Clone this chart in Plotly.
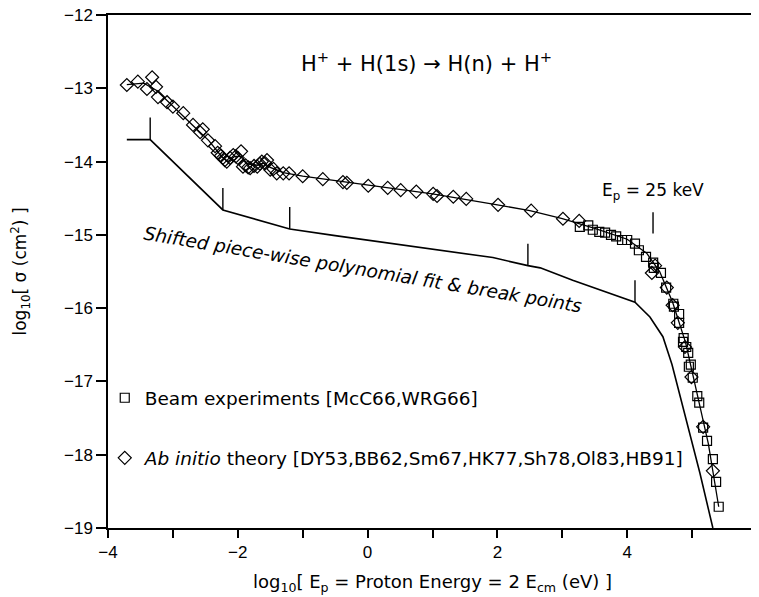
import math
import plotly.graph_objects as go

# ---- data ----
theory_x = [-3.71, -3.54, -3.32, -3.40, -3.26, -3.23, -3.09, -3.00, -2.84, -2.69,
            -2.58, -2.54, -2.46, -2.35, -2.31, -2.26, -2.23, -2.20, -2.17, -2.12,
            -2.07, -2.03, -2.00, -1.95, -1.92, -1.88, -1.84, -1.81, -1.75, -1.70,
            -1.66, -1.63, -1.58, -1.55, -1.50, -1.45, -1.40, -1.30, -1.21, -1.00,
            -0.69, -0.38, -0.32, 0.01, 0.31, 0.51, 0.75, 1.01, 1.07, 1.32,
            1.52, 2.01, 2.52, 3.01, 3.26, 4.38, 4.43, 4.61, 4.70, 4.78,
            4.89, 4.99, 5.17, 5.32]
theory_y = [-12.955, -12.91, -12.85, -13.01, -12.98, -13.12, -13.19, -13.25, -13.34, -13.50,
            -13.60, -13.56, -13.71, -13.79, -13.88, -13.92, -13.95, -13.98, -14.00, -13.95,
            -13.91, -13.93, -13.95, -13.86, -14.07, -14.05, -14.08, -14.09, -14.06, -14.07,
            -14.03, -14.00, -14.02, -13.98, -14.11, -14.10, -14.16, -14.16, -14.16, -14.20,
            -14.24, -14.28, -14.29, -14.33, -14.36, -14.39, -14.41, -14.44, -14.47, -14.48,
            -14.51, -14.59, -14.67, -14.78, -14.81, -15.52, -15.42, -15.72, -15.96, -16.20,
            -16.53, -16.94, -17.62, -18.22]

beam_x = [3.27, 3.40, 3.47, 3.57, 3.66, 3.75, 3.83, 3.92, 4.00, 4.12,
          4.18, 4.29, 4.40, 4.41, 4.52, 4.60, 4.71, 4.72, 4.80, 4.80,
          4.86, 4.87, 4.91, 4.94, 4.95, 4.98, 5.01, 5.08, 5.11, 5.17,
          5.23, 5.32, 5.37, 5.41]
beam_y = [-14.89, -14.87, -14.93, -14.96, -14.97, -15.00, -15.02, -15.07, -15.07, -15.12,
          -15.21, -15.30, -15.38, -15.45, -15.52, -15.72, -15.94, -15.98, -16.08, -16.20,
          -16.46, -16.41, -16.53, -16.61, -16.80, -16.77, -16.95, -17.20, -17.29, -17.63,
          -17.81, -18.06, -18.37, -18.71]

fit_x = [-3.71, -3.45, -3.25, -3.00, -2.70, -2.45, -2.25, -2.15, -2.05, -1.95,
         -1.85, -1.70, -1.60, -1.50, -1.30, -1.00, 0.00, 1.00, 2.00, 2.50,
         3.00, 3.50, 4.00, 4.30, 4.50, 4.70, 4.90, 5.10, 5.25, 5.41]
fit_y = [-12.95, -12.93, -13.03, -13.25, -13.50, -13.71, -13.93, -14.00, -13.93, -13.93,
         -14.03, -14.05, -14.02, -14.08, -14.15, -14.20, -14.32, -14.44, -14.59, -14.67,
         -14.78, -14.91, -15.06, -15.25, -15.50, -15.92, -16.47, -17.25, -17.85, -18.71]

shifted_x = [-3.71, -3.35, -2.23, -1.20, -0.50, 0.50, 1.93, 2.47, 2.66, 3.16,
             3.69, 4.12, 4.35, 4.55, 4.69, 4.86, 5.12, 5.32]
shifted_y = [-13.70, -13.70, -14.66, -14.92, -15.01, -15.13, -15.31, -15.42, -15.45, -15.62,
             -15.79, -15.92, -16.12, -16.39, -16.77, -17.35, -18.25, -19.00]

break_x = [-3.35, -2.23, -1.20, 2.47, 4.12]
break_y = [-13.70, -14.66, -14.92, -15.42, -15.92]
break_len = 0.30

ep_keV = 25
ep_mark_y = [-14.69, -14.98]

x_ticks = [-4, -2, 0, 2, 4, 6]
y_ticks = [-12, -13, -14, -15, -16, -17, -18, -19]

ARIAL = "Liberation Sans, Arial, Helvetica, sans-serif"
WIDE = "DejaVu Sans, Verdana, sans-serif"

fig = go.Figure()

fig.add_trace(go.Scatter(x=fit_x, y=fit_y, mode="lines",
                         line=dict(color="black", width=1.3), showlegend=False,
                         hoverinfo="skip"))
fig.add_trace(go.Scatter(x=shifted_x, y=shifted_y, mode="lines",
                         line=dict(color="black", width=1.6), showlegend=False,
                         hoverinfo="skip"))
bx, by = [], []
for xv, yv in zip(break_x, break_y):
    bx += [xv, xv, None]
    by += [yv, yv + break_len, None]
fig.add_trace(go.Scatter(x=bx, y=by, mode="lines",
                         line=dict(color="black", width=1.4), showlegend=False,
                         hoverinfo="skip"))
ep_x = math.log10(ep_keV * 1e3)
fig.add_trace(go.Scatter(x=[ep_x, ep_x], y=ep_mark_y, mode="lines",
                         line=dict(color="black", width=1.4), showlegend=False,
                         hoverinfo="skip"))

fig.add_trace(go.Scatter(x=beam_x, y=beam_y, mode="markers",
                         name="Beam experiments [McC66,WRG66]",
                         legendgroup="a",
                         marker=dict(symbol="square-open", size=9,
                                     color="black", line=dict(width=1.2))))
fig.add_trace(go.Scatter(x=theory_x, y=theory_y, mode="markers",
                         name="<i>Ab initio</i> theory [DY53,BB62,Sm67,HK77,Sh78,Ol83,HB91]",
                         legendgroup="b",
                         marker=dict(symbol="diamond-open", size=10,
                                     color="black", line=dict(width=1.2))))

fig.add_annotation(x=0.90, y=-12.64, xref="x", yref="y", showarrow=False,
                   text="H<sup>+</sup> + H(1s) \u2192 H(n) + H<sup>+</sup>",
                   font=dict(family=WIDE, size=21, color="black"))
fig.add_annotation(x=4.40, y=-14.41, xref="x", yref="y", showarrow=False,
                   text="E<sub>p</sub> = 25 keV",
                   font=dict(family=WIDE, size=17, color="black"))
fig.add_annotation(x=-0.07, y=-15.47, xref="x", yref="y", showarrow=False,
                   text="<i>Shifted piece-wise polynomial fit &amp; break points</i>",
                   textangle=9.5, font=dict(family=WIDE, size=18.5, color="black"))

# the page body adds an 8px margin, so the figure is sized to fit inside it
fig.update_layout(
    width=751, height=589,
    margin=dict(l=100, r=2, t=7, b=69),
    paper_bgcolor="white", plot_bgcolor="white",
    font=dict(family=ARIAL, size=16, color="black"),
    showlegend=True,
    legend=dict(x=-0.005, y=0.29, xanchor="left", yanchor="top",
                bgcolor="rgba(0,0,0,0)", borderwidth=0,
                font=dict(family=WIDE, size=18.5, color="black"),
                traceorder="grouped", tracegroupgap=33, itemwidth=30),
)
fig.update_xaxes(range=[-4, 6], tickvals=x_ticks,
                 ticktext=[f"{v}" if v >= 0 else f"\u2212{-v}" for v in x_ticks],
                 ticks="outside", ticklen=8, tickwidth=1.5, tickcolor="black",
                 minor=dict(dtick=1, tick0=-4, ticks="outside", ticklen=8,
                            tickwidth=1.5, tickcolor="black"),
                 showline=True, linecolor="black", linewidth=1.5, mirror=True,
                 showgrid=False, zeroline=False, automargin=False,
                 ticklabeloverflow="allow",
                 tickfont=dict(family=ARIAL, size=17),
                 title=dict(text="log<sub>10</sub>[ E<sub>p</sub> = Proton Energy = 2 E<sub>cm</sub> (eV) ]",
                            font=dict(family=WIDE, size=18), standoff=14))
fig.update_yaxes(range=[-19, -12], tickvals=y_ticks,
                 ticktext=[f"\u2212{-v}" for v in y_ticks],
                 ticks="outside", ticklen=10, tickwidth=1.5, tickcolor="black",
                 showline=True, linecolor="black", linewidth=1.5, mirror=True,
                 showgrid=False, zeroline=False, automargin=False,
                 ticklabeloverflow="allow",
                 tickfont=dict(family=ARIAL, size=17),
                 title=dict(text="log<sub>10</sub>[ \u03c3 (cm<sup>2</sup>) ]",
                            font=dict(family=WIDE, size=17), standoff=34))

fig.write_html("out.html")
